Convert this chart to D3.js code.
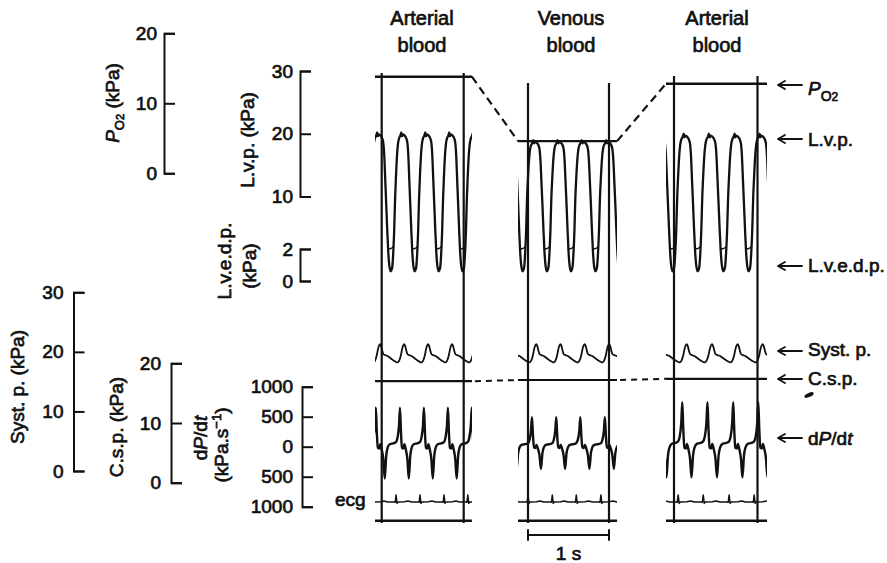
<!DOCTYPE html>
<html>
<head>
<meta charset="utf-8">
<script src="https://cdn.jsdelivr.net/npm/d3@7"></script>
<style>
  body { margin: 0; background: #fff; }
  svg text { font-family: "Liberation Sans", Arial, sans-serif; font-size: 19px; fill: #111; stroke: #111; stroke-width: 0.7px; }
  .axis path, .axis line { stroke: #111; stroke-width: 2; fill: none; }
  .trace { fill: none; stroke: #111; stroke-linejoin: round; stroke-linecap: round; }
</style>
</head>
<body>
<svg id="chart" width="887" height="563"></svg>
<script>
// ---- data ----
const titleTop = ['Arterial', 'Venous', 'Arterial'];
const titleBottom = ['blood', 'blood', 'blood'];

// per panel levels
const po2Values = [13.8, 4.6, 12.8];        // kPa
const cspValues = [17.0, 17.2, 17.4];       // kPa
const lvpPeaks = [20.2, 19.0, 20.0];        // kPa
const dpdtMax = [650, 490, 740];            // kPa/s
const dpdtMin = [-530, -370, -510];         // kPa/s

// R wave times (s from left marker line), one extra beat each side
const rWaves = [
  [-0.12, 0.175, 0.467, 0.76, 1.05, 1.345],
  [-0.3, 0, 0.3, 0.596, 0.9, 1.2],
  [-0.25, 0.05, 0.35, 0.66, 0.96, 1.26]
];
// recorded stretch shown in each panel (s)
const traceSpans = [[-0.082, 1.10], [-0.123, 1.10], [-0.096, 1.114]];

// one beat, [phase after R wave, value]
const lvpBeat = [
  [0, 13.5], [0.041, 16.7], [0.082, 18.6], [0.123, 19.4], [0.18, 19.9], [0.22, 20.4],
  [0.25, 19.8], [0.29, 20.1], [0.36, 19.9], [0.41, 19.6], [0.471, 18.8], [0.512, 16.7],
  [0.553, 12.7], [0.594, 8.8], [0.635, 5.0], [0.676, 1.87], [0.717, 1.03], [0.779, 0.61],
  [0.84, 0.84], [0.881, 1.68], [0.922, 4.7], [0.959, 9.55]
];
const lvedpBeat = [[0.668, 2.0], [0.8, 2.1], [0.893, 2.4]];
const systBeat = [
  [0, 18.3], [0.08, 18.25], [0.14, 18.6], [0.2, 19.4], [0.25, 20.4], [0.3, 21.1], [0.34, 21.3],
  [0.38, 21.0], [0.43, 20.2], [0.48, 19.6], [0.55, 19.45], [0.65, 19.3], [0.75, 19.0],
  [0.85, 18.7], [0.93, 18.45]
];
const dpdtBeat = [
  [0, 80], [0.061, 150], [0.123, 350], [0.164, 650], [0.205, 250], [0.246, -20], [0.307, -30],
  [0.348, 40], [0.41, -50], [0.471, -200], [0.533, -530], [0.594, -150], [0.656, -10],
  [0.738, 40], [0.82, 50], [0.922, 60]
];
const ecgBeat = [[0, 1], [0.04, -0.2], [0.08, 0], [0.35, 0.05], [0.5, 0.15], [0.65, 0], [0.92, 0], [0.965, -0.05]];

// axis ticks
const po2Ticks = [0, 10, 20];
const lvpTicks = [10, 20, 30];
const lvedpTicks = [0, 2];
const systTicks = [0, 10, 20, 30];
const cspTicks = [0, 10, 20];
const dpdtTicks = [-1000, -500, 0, 500, 1000];

// ---- layout ----
const W = 887, H = 563;
const svg = d3.select('#chart');

const po2Y = d3.scaleLinear().domain([0, 20]).range([173.3, 33.3]);
const lvpY = d3.scaleLinear().domain([0, 2, 10, 30]).range([281, 249, 196.5, 71]);
const systY = d3.scaleLinear().domain([0, 30]).range([471, 292.3]);
const cspY = d3.scaleLinear().domain([0, 20]).range([482.7, 363.3]);
const dpdtY = d3.scaleLinear().domain([-1000, 1000]).range([506.7, 386.7]);
const ecgY = d3.scaleLinear().domain([0, 1]).range([502, 495]);

const panelLeft = [381.7, 528, 674];
const panelRight = [463.7, 609, 757.5];
const lineTop = [73, 83, 76];
const lineBottom = 523;
const baseY = 520.7;
const titleX = [422, 571, 717];

const xs = panelLeft.map((l, i) => d3.scaleLinear().domain([0, 1]).range([l, panelRight[i]]));

// spread a beat template over the R-R intervals
const beats = (r, tpl) => {
  const pts = [];
  for (let i = 0; i < r.length - 1; i++) {
    const T = r[i + 1] - r[i];
    tpl.forEach(([ph, v]) => pts.push([r[i] + ph * T, v]));
  }
  return pts;
};
const beatSegments = (r, tpl) => r.slice(0, -1).map((t, i) => tpl.map(([ph, v]) => [t + ph * (r[i + 1] - t), v]));

const lvpTop = d3.max(lvpBeat, d => d[1]);
const dpdtTop = d3.max(dpdtBeat, d => d[1]);
const dpdtBottom = d3.min(dpdtBeat, d => d[1]);

// ---- axes ----
const bracketAxis = (scale, ticks, x, pad, fmt) => {
  const ax = d3.axisLeft(scale)
    .tickValues(ticks)
    .tickSizeInner(-11)
    .tickSizeOuter(-11)
    .tickPadding(pad)
    .tickFormat(fmt || d3.format('d'));
  const g = svg.append('g')
    .attr('class', 'axis')
    .attr('transform', `translate(${x},0)`)
    .call(ax)
    .attr('font-size', null)
    .attr('font-family', null);
  g.selectAll('text').attr('fill', null);
};

bracketAxis(po2Y, po2Ticks, 164, 7);
bracketAxis(d3.scaleLinear().domain([10, 30]).range([lvpY(10), lvpY(30)]), lvpTicks, 300, 7);
bracketAxis(d3.scaleLinear().domain([0, 2]).range([lvpY(0), lvpY(2)]), lvedpTicks, 300, 7);
bracketAxis(systY, systTicks, 73.5, 10);
bracketAxis(cspY, cspTicks, 171, 10);
bracketAxis(dpdtY, dpdtTicks, 302, 9, d => Math.abs(d));

// rotated axis titles
const vLabel = (x, y, parts) => {
  const t = svg.append('text')
    .attr('transform', `translate(${x},${y}) rotate(-90)`)
    .attr('text-anchor', 'middle');
  parts.forEach(p => {
    const s = t.append('tspan').text(p.text);
    if (p.italic) s.attr('font-style', 'italic');
    if (p.size) s.style('font-size', p.size + 'px');
    if (p.dy) s.attr('dy', p.dy);
  });
};

vLabel(119, 103, [{ text: 'P', italic: true }, { text: 'O', size: 13, dy: 5 }, { text: '2', size: 11 }, { text: ' (kPa)', dy: -5 }]);
vLabel(254, 140, [{ text: 'L.v.p. (kPa)' }]);
vLabel(231, 261, [{ text: 'L.v.e.d.p.' }]);
vLabel(256, 266, [{ text: '(kPa)' }]);
vLabel(24, 387, [{ text: 'Syst. p. (kPa)' }]);
vLabel(123, 427, [{ text: 'C.s.p. (kPa)' }]);
vLabel(207, 438, [{ text: 'd' }, { text: 'P', italic: true }, { text: '/d' }, { text: 't', italic: true }]);
vLabel(228, 445, [{ text: '(kPa.s' }, { text: '\u22121', size: 13, dy: -7 }, { text: ')', dy: 7 }]);

svg.append('text').attr('x', 335).attr('y', 506).text('ecg');

// ---- panels ----
titleTop.forEach((title, i) => {
  const x = xs[i];
  const [t0, t1] = traceSpans[i];
  const r = rWaves[i];

  svg.append('text').attr('x', titleX[i]).attr('y', 25).attr('text-anchor', 'middle').style('font-size', '20px').text(title);
  svg.append('text').attr('x', titleX[i]).attr('y', 52).attr('text-anchor', 'middle').style('font-size', '20px').text(titleBottom[i]);

  // marker lines
  [0, 1].forEach(t => {
    svg.append('line')
      .attr('x1', x(t)).attr('x2', x(t))
      .attr('y1', lineTop[i]).attr('y2', lineBottom)
      .attr('stroke', '#111').attr('stroke-width', 2.2);
  });
  svg.append('line')
    .attr('x1', x(t0)).attr('x2', x(t1))
    .attr('y1', baseY).attr('y2', baseY)
    .attr('stroke', '#111').attr('stroke-width', 2.4);

  svg.append('clipPath').attr('id', `clip${i}`).append('rect')
    .attr('x', x(t0)).attr('y', 0)
    .attr('width', x(t1) - x(t0)).attr('height', H);
  const g = svg.append('g').attr('clip-path', `url(#clip${i})`);

  const line = (yScale, curve) => d3.line()
    .x(d => x(d[0]))
    .y(d => yScale(d[1]))
    .curve(curve || d3.curveMonotoneX);

  // P O2 and C.s.p. levels
  g.append('path').attr('class', 'trace').attr('stroke-width', 2.4)
    .attr('d', line(po2Y, d3.curveLinear)([[t0, po2Values[i]], [t1, po2Values[i]]]));
  g.append('path').attr('class', 'trace').attr('stroke-width', 2.2)
    .attr('d', line(cspY, d3.curveLinear)([[t0, cspValues[i]], [t1, cspValues[i]]]));

  // L.v.p.
  const lvp = beats(r, lvpBeat).map(([t, v]) => [t, v > 10 ? 10 + (v - 10) * (lvpPeaks[i] - 10) / (lvpTop - 10) : v]);
  g.append('path').attr('class', 'trace').attr('stroke-width', 2.3)
    .attr('d', line(lvpY)(lvp));
  beatSegments(r, lvedpBeat).forEach(seg => {
    g.append('path').attr('class', 'trace').attr('stroke-width', 1.3)
      .attr('d', line(lvpY)(seg));
  });

  // Syst. p.
  g.append('path').attr('class', 'trace').attr('stroke-width', 1.8)
    .attr('d', line(systY, d3.curveCatmullRom)(beats(r, systBeat)));

  // dP/dt
  const dpdt = beats(r, dpdtBeat).map(([t, v]) => [t, v > 0 ? v * dpdtMax[i] / dpdtTop : v * dpdtMin[i] / dpdtBottom]);
  g.append('path').attr('class', 'trace').attr('stroke-width', 2.4)
    .attr('d', line(dpdtY)(dpdt));

  // ecg
  g.append('path').attr('class', 'trace').attr('stroke-width', 1.5)
    .attr('d', line(ecgY, d3.curveLinear)(beats(r, ecgBeat)));
});

// dashed links between panels
for (let i = 0; i < 2; i++) {
  const a = xs[i](traceSpans[i][1]);
  const b = xs[i + 1](traceSpans[i + 1][0]);
  svg.append('line')
    .attr('x1', a).attr('y1', po2Y(po2Values[i]))
    .attr('x2', b).attr('y2', po2Y(po2Values[i + 1]))
    .attr('stroke', '#111').attr('stroke-width', 2.2).attr('stroke-dasharray', '8,5');
  svg.append('line')
    .attr('x1', a + 3).attr('y1', cspY(cspValues[i]))
    .attr('x2', b).attr('y2', cspY(cspValues[i + 1]))
    .attr('stroke', '#111').attr('stroke-width', 2).attr('stroke-dasharray', '6,5');
}

// 1 s calibration bar
const xv = xs[1];
svg.append('path').attr('class', 'trace').attr('stroke-width', 2)
  .attr('d', `M${xv(0)},535H${xv(1)}M${xv(0)},530V540M${xv(1)},530V540`);
svg.append('text').attr('x', (xv(0) + xv(1)) / 2).attr('y', 560).attr('text-anchor', 'middle').text('1 s');

// right hand labels
const arrow = (y) => {
  svg.append('path').attr('class', 'trace').attr('stroke-width', 1.8)
    .attr('d', `M802,${y}H778M785,${y - 4}L778,${y}L785,${y + 4}`);
};
const rLabel = (y, ty, parts) => {
  arrow(y);
  const t = svg.append('text').attr('x', 808).attr('y', ty);
  parts.forEach(p => {
    const s = t.append('tspan').text(p.text);
    if (p.italic) s.attr('font-style', 'italic');
    if (p.size) s.style('font-size', p.size + 'px');
    if (p.dy) s.attr('dy', p.dy);
  });
};
rLabel(85, 95, [{ text: 'P', italic: true }, { text: 'O', size: 14, dy: 6 }, { text: '2', size: 12 }]);
rLabel(139, 146, [{ text: 'L.v.p.' }]);
rLabel(266, 272, [{ text: 'L.v.e.d.p.' }]);
rLabel(351, 356, [{ text: 'Syst. p.' }]);
rLabel(379, 385, [{ text: 'C.s.p.' }]);
rLabel(438, 445, [{ text: 'd' }, { text: 'P', italic: true }, { text: '/d' }, { text: 't', italic: true }]);

// ink blot on the original
svg.append('ellipse').attr('cx', 809).attr('cy', 395).attr('rx', 5).attr('ry', 2)
  .attr('transform', 'rotate(-25,809,395)').attr('fill', '#111');
</script>
</body>
</html>
